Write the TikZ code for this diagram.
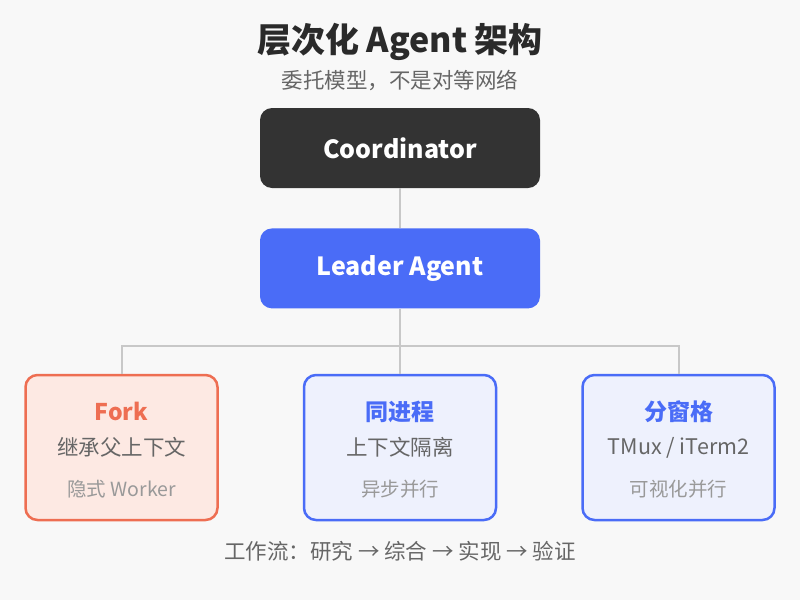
\documentclass[tikz,border=0pt]{standalone}
\usepackage{fontspec}
\setmainfont{Noto Sans CJK SC}
\usepackage{xcolor}
\usetikzlibrary{positioning}
\definecolor{bgGray}{HTML}{F8F8F8}
\definecolor{darkBox}{HTML}{333333}
\definecolor{leadBlue}{HTML}{4A6CF7}
\definecolor{forkRed}{HTML}{EE6E52}
\definecolor{forkFill}{HTML}{FDE9E3}
\definecolor{subFill}{HTML}{EEF1FD}
\definecolor{lineGray}{HTML}{C8C8C8}
\definecolor{txtDark}{HTML}{2A2A2A}
\definecolor{txtMid}{HTML}{666666}
\definecolor{txtLight}{HTML}{999999}

\begin{document}
\begin{tikzpicture}[x=1pt,y=-1pt,node distance=40pt and 84pt,every node/.style={align=center,inner sep=0pt},top/.style={rounded corners=12pt,minimum width=280pt,minimum height=80pt,text=white,font=\fontsize{25}{30}\selectfont\bfseries},sub/.style={rounded corners=12pt,line width=2.5pt,minimum width=192pt,minimum height=145pt},head/.style={font=\fontsize{23}{27}\selectfont\bfseries},line2/.style={font=\fontsize{21.5}{25}\selectfont,text=txtMid},line3/.style={font=\fontsize{19.5}{23}\selectfont,text=txtLight},link/.style={draw=lineGray,line width=2pt}]
\fill[bgGray] (0,0) rectangle (800,600);
\useasboundingbox (0,0) rectangle (800,600);
\node[font=\fontsize{34}{40}\selectfont\bfseries,text=txtDark] (title) at (400,42) {层次化 Agent 架构};
\node[font=\fontsize{21.5}{25}\selectfont,text=txtMid] (subtitle) at (400,80) {委托模型，不是对等网络};
\node[top,fill=darkBox] (coord) at (400,148) {Coordinator};
\node[top,fill=leadBlue,below=of coord] (leader) {Leader Agent};
\node[sub,draw=leadBlue,fill=subFill] (inproc) at (400,447.5) {};
\node[sub,draw=forkRed,fill=forkFill,left=of inproc] (fork) {};
\node[sub,draw=leadBlue,fill=subFill,right=of inproc] (pane) {};
% texts inside the boxes
\node[head,text=forkRed] (forkA) at ([yshift=36pt]fork.center) {Fork};
\node[line2] (forkB) at (fork.center) {继承父上下文};
\node[line3] (forkC) at ([yshift=-42pt]fork.center) {隐式 Worker};
\node[head,text=leadBlue] (inprocA) at ([yshift=36pt]inproc.center) {同进程};
\node[line2] (inprocB) at (inproc.center) {上下文隔离};
\node[line3] (inprocC) at ([yshift=-42pt]inproc.center) {异步并行};
\node[head,text=leadBlue] (paneA) at ([yshift=36pt]pane.center) {分窗格};
\node[line2] (paneB) at (pane.center) {TMux / iTerm2};
\node[line3] (paneC) at ([yshift=-42pt]pane.center) {可视化并行};
% connectors
\coordinate (bus) at (400,346);
\draw[link] (coord.south)--(leader.north);
\draw[link] (leader.south)--(bus)--(inproc.north);
\draw[link] (fork.north)|-(bus);
\draw[link] (pane.north)|-(bus);
\node[font=\fontsize{21.5}{25}\selectfont,text=txtMid] (flow) at (400,551) {工作流：研究 → 综合 → 实现 → 验证};
\end{tikzpicture}
\end{document}
